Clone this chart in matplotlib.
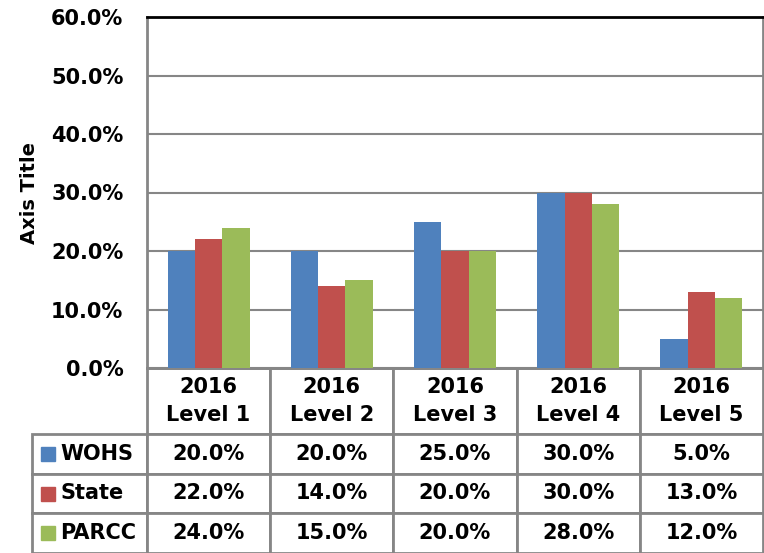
import matplotlib.pyplot as plt
from matplotlib.patches import Rectangle
import numpy as np

# datos
categorias = ["2016\nLevel 1", "2016\nLevel 2", "2016\nLevel 3", "2016\nLevel 4", "2016\nLevel 5"]
series = ["WOHS", "State", "PARCC"]
wohs = [20.0, 20.0, 25.0, 30.0, 5.0]
state = [22.0, 14.0, 20.0, 30.0, 13.0]
parcc = [24.0, 15.0, 20.0, 28.0, 12.0]
colores = ["#4F81BD", "#C0504D", "#9BBB59"]

valores = [wohs, state, parcc]

W, H = 764, 553
fig = plt.figure(figsize=(W / 100, H / 100), dpi=100)

fuente = dict(family="DejaVu Sans", fontsize=15, fontweight="bold")

# area del grafico en pixeles (izq, der, arriba, abajo)
px_l, px_r, px_t, px_b = 147, 763, 17, 368
ax = fig.add_axes([px_l / W, 1 - px_b / H, (px_r - px_l) / W, (px_b - px_t) / H])

x = np.arange(len(categorias))
ancho = 1 / 4.5
for i, (nombre, vals) in enumerate(zip(series, valores)):
    ax.bar(x + (i - 1) * ancho, vals, width=ancho, color=colores[i], zorder=3)

ax.set_xlim(-0.5, len(categorias) - 0.5)
ax.set_ylim(0, 60)
ax.set_yticks(np.arange(0, 61, 10))
ax.set_yticklabels([f"{v:.1f}%" for v in np.arange(0, 61, 10)], **fuente)
ax.set_xticks([])
ax.tick_params(axis="y", length=0, pad=17)
ax.yaxis.grid(True, color="#868686", linewidth=1.5, zorder=0)

for lado in ["left", "right", "bottom"]:
    ax.spines[lado].set_color("#868686")
    ax.spines[lado].set_linewidth(2)
ax.spines["top"].set_color("black")
ax.spines["top"].set_linewidth(2)

ax.set_ylabel("Axis Title", family="DejaVu Sans", fontsize=14,
              fontweight="bold", labelpad=9)

# tabla de datos debajo del grafico
filas = [[s] + [f"{v:.1f}%" for v in vals] for s, vals in zip(series, valores)]
tabla = ax.table(cellText=filas, colLabels=[""] + categorias, cellLoc="center",
                 bbox=[(32 - px_l) / (px_r - px_l), (px_b - H) / (px_b - px_t),
                       (px_r - 32) / (px_r - px_l), (H - px_b) / (px_b - px_t)])
tabla.auto_set_font_size(False)
ancho_etiq = 115
ancho_col = (px_r - px_l) / len(categorias)
for (r, c), celda in tabla.get_celld().items():
    celda.set_edgecolor("#868686")
    celda.set_linewidth(2)
    celda.set_width(ancho_etiq if c == 0 else ancho_col)
    celda.set_height(66 if r == 0 else 39.7)
    celda.get_text().set(**fuente)
    if r == 0:
        celda.get_text().set_linespacing(1.45)
    if r == 0 and c == 0:
        celda.visible_edges = ""
    if r > 0 and c == 0:
        celda.get_text().set_ha("left")
        celda.PAD = 0.245

# cuadritos de leyenda
alto_ax = px_b - px_t
ancho_ax = px_r - px_l
for i, col in enumerate(colores):
    yc = 434 + 39.7 * i + 19.85
    ax.add_patch(Rectangle(((41 - px_l) / ancho_ax, (px_b - yc - 7) / alto_ax),
                           14 / ancho_ax, 14 / alto_ax, transform=ax.transAxes,
                           color=col, clip_on=False, zorder=5))

fig.savefig("out.png", dpi=100)
